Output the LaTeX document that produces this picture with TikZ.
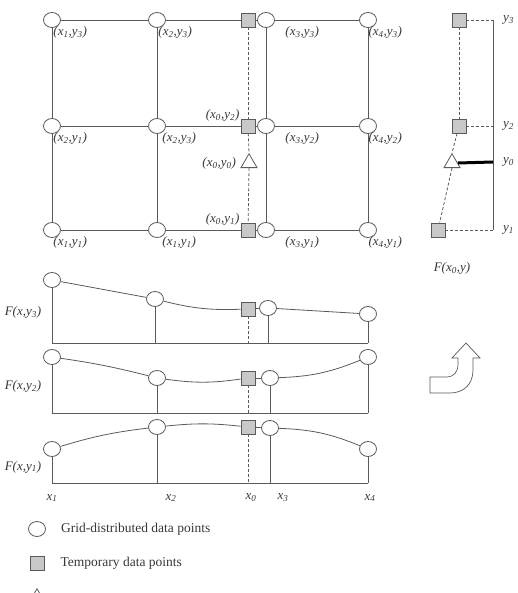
\documentclass[tikz,border=0pt]{standalone}
\usepackage{fontspec}
\setmainfont{Liberation Serif}
\usepackage{tikz}
\usetikzlibrary{positioning,shapes.geometric}
\usepackage{xcolor}
\definecolor{LineGray}{RGB}{90,90,90}
\definecolor{BoxGray}{RGB}{200,200,200}
\definecolor{TextGray}{RGB}{55,55,55}
\newcommand{\cpair}[2]{(x\textsubscript{#1},y\textsubscript{#2})}

\begin{document}
\begin{tikzpicture}[x=1pt, y=-1pt,
  grid/.style={ellipse, draw=LineGray, fill=white, line width=0.8pt, minimum width=17pt, minimum height=15pt, inner sep=0pt},
  tmp/.style={rectangle, draw=LineGray, fill=BoxGray, line width=0.8pt, minimum size=14pt, inner sep=0pt},
  tri/.style={regular polygon, regular polygon sides=3, draw=LineGray, fill=white, line width=0.8pt, minimum size=18.5pt, inner sep=0pt},
  lbl/.style={font=\fontsize{13}{15}\selectfont\itshape, text=TextGray, inner sep=1pt},
  txt/.style={font=\fontsize{13.5}{16}\selectfont, text=TextGray, inner sep=1pt},
  ln/.style={draw=LineGray, line width=0.8pt},
  dln/.style={draw=LineGray, line width=0.8pt, dash pattern=on 3pt off 2pt}]
\useasboundingbox (0,0) rectangle (518,593);
\clip (0,0) rectangle (518,593);

% grid of data points
\node[grid] (c13) at (52,20) {};
\node[grid] (c23) at (157,20) {};
\node[tmp] (s3) at (248,20) {};
\node[grid] (c33) at (266,20) {};
\node[grid] (c43) at (368,20) {};
\node[grid] (c12) at (52,126) {};
\node[grid] (c22) at (157,126) {};
\node[tmp] (s2) at (248,126) {};
\node[grid] (c32) at (266,126) {};
\node[grid] (c42) at (368,126) {};
\node[tri] (t0) at (249,163) {};
\node[grid] (c11) at (52,230) {};
\node[grid] (c21) at (157,230) {};
\node[tmp] (s1) at (248,230) {};
\node[grid] (c31) at (266,230) {};
\node[grid] (c41) at (368,230) {};
\draw[ln] (c13) -- (c23) -- (s3) -- (c33) -- (c43);
\draw[ln] (c12) -- (c22) -- (s2) -- (c32) -- (c42);
\draw[ln] (c11) -- (c21) -- (s1) -- (c31) -- (c41);
\draw[ln] (c13) -- (c12) -- (c11);
\draw[ln] (c23) -- (c22) -- (c21);
\draw[ln] (c33) -- (c32) -- (c31);
\draw[ln] (c43) -- (c42) -- (c41);
\draw[dln] (s3) -- (s2);
\draw[dln] (s2) -- (t0.corner 1);
\draw[dln] (t0.south) -- (s1);
\node[lbl, below right=0pt and -6pt of c13] {\cpair{1}{3}};
\node[lbl, below right=0pt and -6pt of c23] {\cpair{2}{3}};
\node[lbl, below right=0pt and 12pt of c33] {\cpair{3}{3}};
\node[lbl, below right=0pt and -7pt of c43] {\cpair{4}{3}};
\node[lbl, below right=0pt and -6pt of c12] {\cpair{2}{1}};
\node[lbl, below right=0pt and -2pt of c22] {\cpair{2}{3}};
\node[lbl, below right=0pt and 12pt of c32] {\cpair{3}{2}};
\node[lbl, below right=0pt and -7pt of c42] {\cpair{4}{2}};
\node[lbl, below right=0pt and -6pt of c11] {\cpair{1}{1}};
\node[lbl, below right=0pt and -2pt of c21] {\cpair{1}{1}};
\node[lbl, below right=0pt and 12pt of c31] {\cpair{3}{1}};
\node[lbl, below right=0pt and -7pt of c41] {\cpair{4}{1}};
\node[lbl, above left=-4pt and 0pt of s2] {\cpair{0}{2}};
\node[lbl, above left=-4pt and 0pt of s1] {\cpair{0}{1}};
\node[lbl, left=6pt of t0] {\cpair{0}{0}};

% interpolation along y
\node[tmp] (r3) at (459,20) {};
\node[tmp] (r2) at (459,126) {};
\node[tri] (r0) at (452,163) {};
\node[tmp] (r1) at (438,230) {};
\coordinate (ax3) at (493,20);
\coordinate (ax2) at (493,126);
\coordinate (ax0) at (493,162);
\coordinate (ax1) at (493,230);
\draw[ln] (ax3) -- (ax1);
\draw[dln] (r3) -- (ax3);
\draw[dln] (r2) -- (ax2);
\draw[dln] (r1) -- (ax1);
\draw[draw=black, line width=3pt] (r0.east) -- (ax0);
\draw[dln] (r3) -- (r2);
\draw[dln] (r2) -- (r0.corner 1);
\draw[dln] (r0.south) -- (r1);
\node[lbl, right=9pt of ax3] {y\textsubscript{3}};
\node[lbl, right=9pt of ax2] {y\textsubscript{2}};
\node[lbl, right=9pt of ax0] {y\textsubscript{0}};
\node[lbl, right=9pt of ax1] {y\textsubscript{1}};
\node[lbl] (fx0) at (452,268) {F(x\textsubscript{0},y)};

% profiles along x
\node[grid] (a13) at (52,280) {};
\node[grid] (a23) at (155,299) {};
\node[tmp] (q3) at (248,309) {};
\node[grid] (a33) at (268,308) {};
\node[grid] (a43) at (368,314) {};
\coordinate (p3l) at (52,343);
\coordinate (p3r) at (368,343);
\draw[ln] (p3l) -- (p3r);
\draw[ln] (a13) -- (a13 |- p3l);
\draw[ln] (a23) -- (a23 |- p3l);
\draw[ln] (a33) -- (a33 |- p3l);
\draw[ln] (a43) -- (a43 |- p3l);
\draw[dln] (q3) -- (q3 |- p3l);
\draw[ln] (a13) -- (a23);
\draw[ln] (a23) to[bend right=8] (q3);
\draw[ln] (q3) -- (a33);
\draw[ln] (a33) -- (a43);
\node[lbl] (f3) at (23,312) {F(x,y\textsubscript{3})};

\node[grid] (a12) at (52,357) {};
\node[grid] (a22) at (157,378) {};
\node[tmp] (q2) at (248,378) {};
\node[grid] (a32) at (270,378) {};
\node[grid] (a42) at (368,357) {};
\coordinate (p2l) at (52,413);
\coordinate (p2r) at (368,413);
\draw[ln] (p2l) -- (p2r);
\draw[ln] (a12) -- (a12 |- p2l);
\draw[ln] (a22) -- (a22 |- p2l);
\draw[ln] (a32) -- (a32 |- p2l);
\draw[ln] (a42) -- (a42 |- p2l);
\draw[dln] (q2) -- (q2 |- p2l);
\draw[ln] (a12) to[bend left=3] (a22);
\draw[ln] (a22) to[bend right=8] (q2);
\draw[ln] (q2) -- (a32);
\draw[ln] (a32) to[bend right=10] (a42);
\node[lbl] (f2) at (23,386) {F(x,y\textsubscript{2})};

\node[grid] (a11) at (52,449) {};
\node[grid] (a21) at (157,427) {};
\node[tmp] (q1) at (248,427) {};
\node[grid] (a31) at (270,428) {};
\node[grid] (a41) at (368,449) {};
\coordinate (p1l) at (52,483);
\coordinate (p1r) at (368,483);
\draw[ln] (p1l) -- (p1r);
\draw[ln] (a11) -- (a11 |- p1l);
\draw[ln] (a21) -- (a21 |- p1l);
\draw[ln] (a31) -- (a31 |- p1l);
\draw[ln] (a41) -- (a41 |- p1l);
\draw[dln] (q1) -- (q1 |- p1l);
\draw[ln] (a11) to[bend left=5] (a21);
\draw[ln] (a21) to[bend left=6] (q1);
\draw[ln] (q1) -- (a31);
\draw[ln] (a31) to[bend left=10] (a41);
\node[lbl] (f1) at (23,467) {F(x,y\textsubscript{1})};

\node[lbl] (x1) at (52,498) {x\textsubscript{1}};
\node[lbl] (x2) at (171,498) {x\textsubscript{2}};
\node[lbl] (x0) at (251,498) {x\textsubscript{0}};
\node[lbl] (x3) at (283,498) {x\textsubscript{3}};
\node[lbl] (x4) at (370,498) {x\textsubscript{4}};

% turning arrow
\draw[draw=LineGray, line width=0.7pt, fill=white]
  (430,377) -- (446,377) .. controls (454,377) and (458,372) .. (458,364) -- (458,358)
  -- (452,358) -- (466,343) -- (480,358) -- (473,358) -- (473,370)
  .. controls (473,385) and (463,393) .. (450,393) -- (430,393) -- cycle;

% legend
\node[grid] (leg1) at (37,529) {};
\node[txt, anchor=west, right=14pt of leg1] {Grid-distributed data points};
\node[tmp] (leg2) at (37,563) {};
\node[txt, anchor=west, right=15pt of leg2] {Temporary data points};
\node[tri] (leg3) at (37,598) {};
\end{tikzpicture}
\end{document}
